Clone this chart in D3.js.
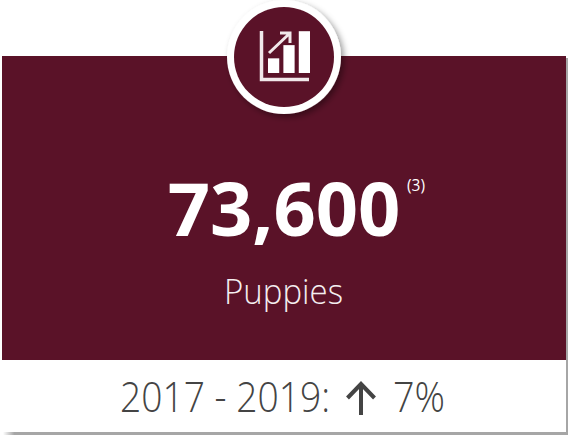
<!DOCTYPE html>
<html>
<head>
<meta charset="utf-8">
<script src="https://cdn.jsdelivr.net/npm/d3@7"></script>
<style>
  html, body { margin: 0; padding: 0; background: #fff; overflow: hidden; }
  svg { display: block; }
  text { font-family: "Open Sans", sans-serif; }
</style>
</head>
<body>
<div id="chart"></div>
<script>
const headlineValue = [73600]
const footnote = ['(3)']
const metricLabel = ['Puppies']
const periodLabel = ['2017 - 2019:']
const changeValue = [0.07]
const iconCategories = ['a', 'b', 'c']
const iconValues = [1, 1.9, 2.85]

const maroon = '#5a1228'
const grey = '#444444'

let width = 568,
    height = 435

let svg = d3.select('#chart').append('svg')
    .attr('width', width)
    .attr('height', height)

let defs = svg.append('defs')

let shadow = defs.append('filter').attr('id', 'circle-shadow')
    .attr('x', '-30%').attr('y', '-30%').attr('width', '160%').attr('height', '160%')
shadow.append('feDropShadow')
    .attr('dx', 3).attr('dy', 3).attr('stdDeviation', 3)
    .attr('flood-color', '#000').attr('flood-opacity', 0.4)

let edge = defs.append('linearGradient').attr('id', 'card-edge')
edge.append('stop').attr('offset', '0%').attr('stop-color', '#fff')
edge.append('stop').attr('offset', '2%').attr('stop-color', '#a6a6a6')

// card with grey edge on right and bottom, the bottom one fades out to the left
svg.append('rect')
    .attr('x', 3).attr('y', 58)
    .attr('width', 565).attr('height', 377)
    .attr('fill', 'url(#card-edge)')

svg.append('rect')
    .attr('x', 2).attr('y', 56)
    .attr('width', 564).attr('height', 376)
    .attr('fill', '#fff')

svg.append('rect')
    .attr('x', 2).attr('y', 56)
    .attr('width', 564).attr('height', 304)
    .attr('fill', maroon)

// badge
svg.append('circle')
    .attr('cx', 284).attr('cy', 57).attr('r', 57)
    .attr('fill', '#fff')
    .attr('filter', 'url(#circle-shadow)')

svg.append('circle')
    .attr('cx', 284).attr('cy', 57).attr('r', 50)
    .attr('fill', maroon)

// little bar chart icon
let iconX = d3.scaleBand()
    .domain(iconCategories)
    .range([268, 310])
    .paddingInner(0.27)

let iconY = d3.scaleLinear()
    .domain([0, 3])
    .range([73, 29])

let icon = svg.append('g').attr('class', 'icon')

icon.selectAll('rect')
    .data(iconValues)
    .enter().append('rect')
    .attr('x', (d, i) => iconX(iconCategories[i]))
    .attr('y', d => iconY(d))
    .attr('width', iconX.bandwidth())
    .attr('height', d => iconY(0) - iconY(d))
    .attr('fill', '#fff')

icon.append('path')
    .attr('d', 'M261.5,31V79.5H309')
    .attr('fill', 'none')
    .attr('stroke', '#f1e8ea')
    .attr('stroke-width', 3.5)

icon.append('path')
    .attr('d', 'M269,53L289,34M280,33H290V43')
    .attr('fill', 'none')
    .attr('stroke', '#f1e8ea')
    .attr('stroke-width', 3)

// headline
svg.append('text')
    .data(headlineValue)
    .attr('x', 284).attr('y', 236)
    .attr('text-anchor', 'middle')
    .attr('font-size', 74)
    .attr('font-weight', 700)
    .attr('fill', '#fff')
    .text(d => d3.format(',')(d))

svg.append('text')
    .attr('x', 407).attr('y', 191)
    .attr('font-size', 16)
    .attr('textLength', 18)
    .attr('lengthAdjust', 'spacingAndGlyphs')
    .attr('fill', '#fff')
    .text(footnote[0])

svg.append('text')
    .attr('x', 224).attr('y', 304)
    .attr('font-size', 35)
    .attr('font-weight', 300)
    .attr('textLength', 119)
    .attr('lengthAdjust', 'spacingAndGlyphs')
    .attr('fill', '#f4eef0')
    .text(metricLabel[0])

// footer, Open Sans runs wider than the original face so squeeze to fit
svg.append('text')
    .attr('x', 120).attr('y', 412)
    .attr('font-size', 42)
    .attr('font-weight', 300)
    .attr('textLength', 210)
    .attr('lengthAdjust', 'spacingAndGlyphs')
    .attr('fill', grey)
    .text(periodLabel[0])

svg.append('path')
    .attr('d', 'M361,415V385M347.5,398L361,384L374.5,398')
    .attr('fill', 'none')
    .attr('stroke', grey)
    .attr('stroke-width', 4)

svg.append('text')
    .attr('x', 393).attr('y', 412)
    .attr('font-size', 42)
    .attr('font-weight', 300)
    .attr('textLength', 52)
    .attr('lengthAdjust', 'spacingAndGlyphs')
    .attr('fill', grey)
    .text(d3.format('.0%')(changeValue[0]))
</script>
</body>
</html>
